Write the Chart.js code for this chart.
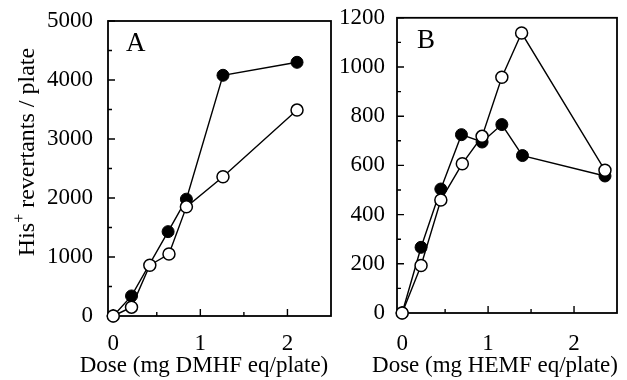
<!DOCTYPE html>
<html>
<head>
<meta charset="utf-8">
<script src="https://cdn.jsdelivr.net/npm/chart.js@4"></script>
<style>
  html, body { margin: 0; padding: 0; background: #fff; }
  #wrap { position: relative; width: 627px; height: 380px; overflow: hidden; }
  canvas { position: absolute; top: 0; }
</style>
</head>
<body>
<div id="wrap">
  <canvas id="chartA" width="340" height="380" style="left:0px"></canvas>
  <canvas id="chartB" width="292" height="380" style="left:335px"></canvas>
</div>
<script>
// Panel A: DMHF
var doseA_open   = [0, 0.21, 0.42, 0.64, 0.84, 1.26, 2.11];
var revA_open    = [0, 150, 860, 1050, 1850, 2360, 3490];
var doseA_filled = [0, 0.21, 0.63, 0.84, 1.26, 2.11];
var revA_filled  = [0, 340, 1430, 1980, 4080, 4300];

// Panel B: HEMF
var doseB_open   = [0, 0.22, 0.45, 0.70, 0.93, 1.16, 1.39, 2.36];
var revB_open    = [0, 193, 459, 607, 718, 958, 1138, 580];
var doseB_filled = [0, 0.22, 0.45, 0.69, 0.93, 1.16, 1.40, 2.36];
var revB_filled  = [0, 267, 504, 725, 695, 766, 640, 557];

var xMajor  = [0, 1, 2];
var xMinor  = [0.5, 1.5];
var yMajorA = [0, 1000, 2000, 3000, 4000, 5000];
var yMinorA = [500, 1500, 2500, 3500, 4500];
var yMajorB = [0, 200, 400, 600, 800, 1000, 1200];
var yMinorB = [100, 300, 500, 700, 900, 1100];

var FONT = "'Liberation Serif', 'Times New Roman', serif";

function pts(xs, ys) {
  return xs.map(function(x, i) { return { x: x, y: ys[i] }; });
}

// box around the plot, inward ticks, titles and panel letter
var frameTicks = {
  id: 'frameTicks',
  beforeDatasetsDraw: function(chart, args, o) {
    var ctx = chart.ctx, a = chart.chartArea;
    var xs = chart.scales.x, ys = chart.scales.y;
    ctx.save();
    ctx.strokeStyle = '#000';
    ctx.lineWidth = 1.8;
    ctx.strokeRect(a.left, a.top, a.right - a.left, a.bottom - a.top);
    ctx.lineWidth = 1.4;
    ctx.beginPath();
    o.xMajor.forEach(function(v) {
      var p = xs.getPixelForValue(v);
      ctx.moveTo(p, a.bottom); ctx.lineTo(p, a.bottom - 7);
    });
    o.xMinor.forEach(function(v) {
      var p = xs.getPixelForValue(v);
      ctx.moveTo(p, a.bottom); ctx.lineTo(p, a.bottom - 4);
    });
    o.yMajor.forEach(function(v) {
      var p = ys.getPixelForValue(v);
      ctx.moveTo(a.left, p); ctx.lineTo(a.left + 7, p);
    });
    o.yMinor.forEach(function(v) {
      var p = ys.getPixelForValue(v);
      ctx.moveTo(a.left, p); ctx.lineTo(a.left + 4, p);
    });
    ctx.stroke();
    ctx.restore();
  },
  afterDraw: function(chart, args, o) {
    var ctx = chart.ctx;
    ctx.save();
    ctx.fillStyle = '#000';
    // panel letter
    ctx.font = '27px ' + FONT;
    ctx.textAlign = 'left';
    ctx.textBaseline = 'alphabetic';
    ctx.fillText(o.letter, o.letterX, o.letterY);
    // x title
    ctx.font = '23px ' + FONT;
    ctx.textAlign = 'center';
    ctx.fillText(o.xTitle, o.xTitleX, 372);
    // y title with superscript
    if (o.yTitle) {
      ctx.translate(o.yTitleX, o.yTitleY);
      ctx.rotate(-Math.PI / 2);
      ctx.textAlign = 'left';
      var big = '24px ' + FONT, small = '16px ' + FONT;
      ctx.font = big;
      var w1 = ctx.measureText('His').width;
      var w3 = ctx.measureText(' revertants / plate').width;
      ctx.font = small;
      var w2 = ctx.measureText('+').width;
      var x0 = -(w1 + w2 + w3) / 2;
      ctx.font = big;
      ctx.fillText('His', x0, 8);
      ctx.font = small;
      ctx.fillText('+', x0 + w1, -2);
      ctx.font = big;
      ctx.fillText(' revertants / plate', x0 + w1 + w2, 8);
    }
    ctx.restore();
  }
};

function makeChart(id, openPts, filledPts, cfg) {
  return new Chart(document.getElementById(id), {
    type: 'scatter',
    data: {
      datasets: [
        {
          data: openPts,
          showLine: true,
          borderColor: '#000',
          borderWidth: 1.4,
          pointRadius: 6,
          pointBackgroundColor: '#fff',
          pointBorderColor: '#000',
          pointBorderWidth: 1.5,
          clip: false
        },
        {
          data: filledPts,
          showLine: true,
          borderColor: '#000',
          borderWidth: 1.4,
          pointRadius: 6,
          pointBackgroundColor: '#000',
          pointBorderColor: '#000',
          pointBorderWidth: 1,
          clip: false
        }
      ]
    },
    options: {
      responsive: false,
      animation: false,
      devicePixelRatio: 1,
      layout: { padding: cfg.padding },
      plugins: {
        legend: { display: false },
        tooltip: { enabled: false },
        frameTicks: cfg.frame
      },
      scales: {
        x: {
          type: 'linear',
          min: -0.06,
          max: 2.5,
          grid: { display: false },
          border: { display: false },
          afterBuildTicks: function(s) { s.ticks = xMajor.map(function(v) { return { value: v }; }); },
          afterFit: function(s) { s.height = cfg.xHeight; },
          ticks: {
            color: '#000',
            padding: cfg.xPad,
            maxRotation: 0,
            font: { family: FONT, size: 23 },
            callback: function(v) { return String(v); }
          }
        },
        y: {
          type: 'linear',
          min: 0,
          max: cfg.yMax,
          grid: { display: false },
          border: { display: false },
          afterBuildTicks: function(s) { s.ticks = cfg.frame.yMajor.map(function(v) { return { value: v }; }); },
          afterFit: function(s) { s.width = cfg.yWidth; },
          ticks: {
            color: '#000',
            padding: cfg.yPad,
            font: { family: FONT, size: 23 },
            callback: function(v) { return String(v); }
          }
        }
      }
    },
    plugins: [frameTicks]
  });
}

makeChart('chartA', pts(doseA_open, revA_open), pts(doseA_filled, revA_filled), {
  padding: { left: 0, right: 9, top: 21, bottom: 0 },
  xHeight: 64,
  xPad: 6,
  yWidth: 108,
  yPad: 7,
  yMax: 5000,
  frame: {
    xMajor: xMajor, xMinor: xMinor, yMajor: yMajorA, yMinor: yMinorA,
    letter: 'A', letterX: 126, letterY: 51,
    xTitle: 'Dose (mg DMHF eq/plate)', xTitleX: 204,
    yTitle: true, yTitleX: 26, yTitleY: 152
  }
});

makeChart('chartB', pts(doseB_open, revB_open), pts(doseB_filled, revB_filled), {
  padding: { left: 0, right: 10, top: 16, bottom: 0 },
  xHeight: 67,
  xPad: 9,
  yWidth: 62,
  yPad: 4,
  yMax: 1200,
  frame: {
    xMajor: xMajor, xMinor: xMinor, yMajor: yMajorB, yMinor: yMinorB,
    letter: 'B', letterX: 82, letterY: 48,
    xTitle: 'Dose (mg HEMF eq/plate)', xTitleX: 160,
    yTitle: false
  }
});
</script>
</body>
</html>
